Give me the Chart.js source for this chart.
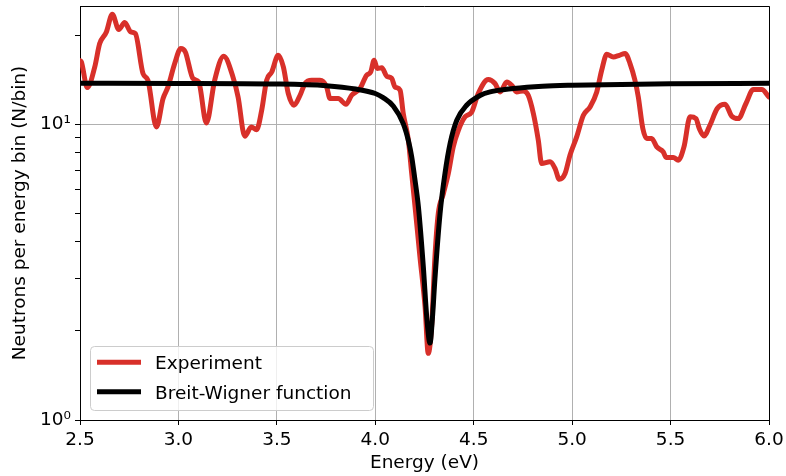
<!DOCTYPE html>
<html>
<head>
<meta charset="utf-8">
<title>Breit-Wigner resonance</title>
<script src="https://cdn.jsdelivr.net/npm/chart.js@4.4.1/dist/chart.umd.min.js"></script>
<style>
    body { margin: 0; background: #fff; }
    canvas { display: block; }
</style>
</head>
<body>
<canvas id="resonanceChart" width="786" height="476"></canvas>
<script>
// Measured spectrum (energy in eV, neutrons per bin)
const energyExp = [2.5, 2.507, 2.537, 2.575, 2.6, 2.634, 2.664, 2.697, 2.727, 2.758,
    2.781, 2.82, 2.845, 2.888, 2.922, 2.947, 2.981, 3.012, 3.035, 3.074,
    3.103, 3.142, 3.184, 3.23, 3.277, 3.303, 3.337, 3.37, 3.397, 3.423,
    3.448, 3.474, 3.507, 3.533, 3.558, 3.587, 3.618, 3.643, 3.677, 3.719,
    3.753, 3.77, 3.812, 3.851, 3.88, 3.922, 3.956, 3.977, 3.994, 4.01,
    4.033, 4.058, 4.083, 4.1, 4.126, 4.142, 4.168, 4.185, 4.202, 4.227,
    4.253, 4.269, 4.287, 4.303, 4.32, 4.346, 4.371, 4.396, 4.422, 4.456,
    4.49, 4.523, 4.574, 4.608, 4.634, 4.668, 4.693, 4.718, 4.752, 4.777,
    4.803, 4.828, 4.845, 4.888, 4.913, 4.935, 4.964, 4.989, 5.023, 5.057,
    5.091, 5.125, 5.15, 5.176, 5.209, 5.24, 5.269, 5.294, 5.319, 5.336,
    5.359, 5.379, 5.404, 5.43, 5.463, 5.477, 5.514, 5.539, 5.568, 5.599,
    5.629, 5.646, 5.67, 5.7, 5.737, 5.777, 5.811, 5.844, 5.883, 5.92,
    5.963, 6.0];
const countsExp = [16.4, 16.24, 13.3, 15.62, 18.73, 20.5, 23.53, 20.89, 22.06, 20.5,
    20.25, 14.84, 14.08, 9.79, 12.21, 13.37, 16.04, 18.02, 17.55, 14.27,
    13.9, 10.1, 14.08, 16.97, 14.45, 12.37, 9.11, 9.79, 9.58, 11.15,
    14.08, 15.02, 17.1, 15.62, 12.7, 11.59, 12.53, 13.73, 14.08, 14.08,
    13.37, 12.21, 12.21, 11.68, 12.53, 13.2, 14.64, 15.02, 16.45, 15.43,
    15.52, 14.53, 14.3, 13.37, 13.03, 10.87, 8.83, 6.81, 5.26, 3.56,
    2.41, 1.68, 2.12, 3.56, 4.99, 5.83, 6.81, 8.38, 9.54, 10.59,
    11.0, 12.7, 14.16, 13.73, 12.86, 13.9, 13.54, 12.86, 12.96, 12.53,
    10.87, 8.83, 7.36, 7.46, 7.09, 6.51, 6.81, 7.86, 9.06, 10.72,
    11.44, 12.86, 15.22, 17.24, 16.88, 17.1, 17.34, 16.04, 14.08, 12.37,
    9.67, 8.95, 8.95, 8.38, 8.06, 7.72, 7.72, 7.56, 8.38, 10.59,
    10.45, 9.67, 9.13, 9.92, 11.3, 11.68, 10.64, 10.45, 11.75, 13.1,
    13.1, 12.37];

// Fitted Breit-Wigner curve
const energyFit = [2.5, 3.0, 3.5, 3.75, 3.9, 4.0, 4.04, 4.092, 4.142, 4.17,
    4.185, 4.2, 4.219, 4.244, 4.262, 4.278, 4.29, 4.303, 4.329, 4.354,
    4.38, 4.414, 4.464, 4.532, 4.583, 4.7, 4.85, 5.0, 5.5, 6.0];
const countsFit = [13.75, 13.74, 13.68, 13.5, 13.15, 12.7, 12.3, 11.5, 10.05, 8.7,
    7.75, 6.6, 5.26, 3.3, 2.2, 1.82, 2.2, 3.0, 4.99, 6.81,
    8.6, 10.31, 11.59, 12.5, 12.86, 13.2, 13.45, 13.55, 13.7, 13.75];

const xTicks = [2.5, 3.0, 3.5, 4.0, 4.5, 5.0, 5.5, 6.0];
const yTicks = [1, 2, 3, 4, 5, 6, 7, 8, 9, 10, 20];
const yLabels = { 1: '10\u2070', 10: '10\u00b9' };

const FONT = "'DejaVu Sans', sans-serif";
const RED = '#d8302a';

function toPoints(xs, ys) {
    return xs.map((x, i) => ({ x: x, y: ys[i] }));
}

// matplotlib-style legend in the lower left corner
const innerLegend = {
    id: 'innerLegend',
    afterDatasetsDraw(chart) {
        const ctx = chart.ctx;
        const x0 = 90.5, y0 = 346.5, w = 283, h = 64, r = 4;
        ctx.save();
        ctx.beginPath();
        ctx.roundRect(x0, y0, w, h, r);
        ctx.fillStyle = 'rgba(255,255,255,0.8)';
        ctx.fill();
        ctx.strokeStyle = '#cccccc';
        ctx.lineWidth = 1;
        ctx.stroke();

        const entries = [chart.data.datasets[0], chart.data.datasets[1]];
        entries.forEach((ds, i) => {
            const yMid = 362.3 + i * 29.4;
            ctx.beginPath();
            ctx.moveTo(97, yMid);
            ctx.lineTo(141, yMid);
            ctx.strokeStyle = ds.borderColor;
            ctx.lineWidth = 5;
            ctx.lineCap = 'butt';
            ctx.stroke();
            ctx.fillStyle = '#000';
            ctx.font = '18.5px ' + FONT;
            ctx.textBaseline = 'alphabetic';
            ctx.textAlign = 'left';
            ctx.fillText(ds.label, 155, yMid + 7);
        });
        ctx.restore();
    }
};

// top and right spines
const frame = {
    id: 'frame',
    afterDraw(chart) {
        const a = chart.chartArea;
        const ctx = chart.ctx;
        ctx.save();
        ctx.strokeStyle = '#000';
        ctx.lineWidth = 1;
        ctx.beginPath();
        ctx.moveTo(a.left, a.top + 0.5);
        ctx.lineTo(a.right + 0.5, a.top + 0.5);
        ctx.lineTo(a.right + 0.5, a.bottom);
        ctx.stroke();
        ctx.restore();
    }
};

Chart.defaults.font.family = FONT;
Chart.defaults.font.size = 18.5;
Chart.defaults.color = '#000';

const ctx = document.getElementById('resonanceChart').getContext('2d');
new Chart(ctx, {
    type: 'line',
    data: {
        datasets: [
            {
                label: 'Experiment',
                data: toPoints(energyExp, countsExp),
                borderColor: RED,
                borderWidth: 5,
                pointRadius: 0,
                cubicInterpolationMode: 'monotone',
                borderJoinStyle: 'round',
                borderCapStyle: 'round',
                order: 2
            },
            {
                label: 'Breit-Wigner function',
                data: toPoints(energyFit, countsFit),
                borderColor: '#000000',
                borderWidth: 5,
                pointRadius: 0,
                cubicInterpolationMode: 'monotone',
                borderJoinStyle: 'round',
                borderCapStyle: 'round',
                order: 1
            }
        ]
    },
    options: {
        responsive: false,
        animation: false,
        layout: { padding: { left: 0, right: 17, top: 6, bottom: 0 } },
        plugins: {
            legend: { display: false },
            tooltip: { enabled: false }
        },
        scales: {
            x: {
                type: 'linear',
                min: 2.5,
                max: 6.0,
                afterFit: scale => {
                    scale.height = 56;
                    scale.paddingLeft = 0;
                    scale.paddingRight = 0;
                },
                afterBuildTicks: scale => {
                    scale.ticks = xTicks.map(v => ({ value: v }));
                },
                ticks: {
                    autoSkip: false,
                    maxRotation: 0,
                    padding: 4,
                    callback: v => v.toFixed(1)
                },
                grid: {
                    color: '#b0b0b0',
                    lineWidth: 1,
                    tickColor: '#000',
                    tickLength: 5
                },
                border: { color: '#000', width: 1 },
                title: {
                    display: true,
                    text: 'Energy (eV)',
                    padding: { top: 0, bottom: 2 }
                }
            },
            y: {
                type: 'logarithmic',
                min: 1,
                max: 25.1,
                afterFit: scale => {
                    scale.width = 80;
                    scale.paddingTop = 0;
                    scale.paddingBottom = 0;
                },
                afterBuildTicks: scale => {
                    scale.ticks = yTicks.map(v => ({ value: v }));
                },
                ticks: {
                    autoSkip: false,
                    padding: 4,
                    callback: v => yLabels[v] || ''
                },
                grid: {
                    color: c => (c.tick && c.tick.value === 10) ? '#b0b0b0' : 'rgba(0,0,0,0)',
                    lineWidth: 1,
                    tickColor: '#000',
                    tickLength: 5
                },
                border: { color: '#000', width: 1 },
                title: {
                    display: true,
                    text: 'Neutrons per energy bin (N/bin)',
                    padding: { top: 9, bottom: 0 }
                }
            }
        }
    },
    plugins: [innerLegend, frame]
});
</script>
</body>
</html>
